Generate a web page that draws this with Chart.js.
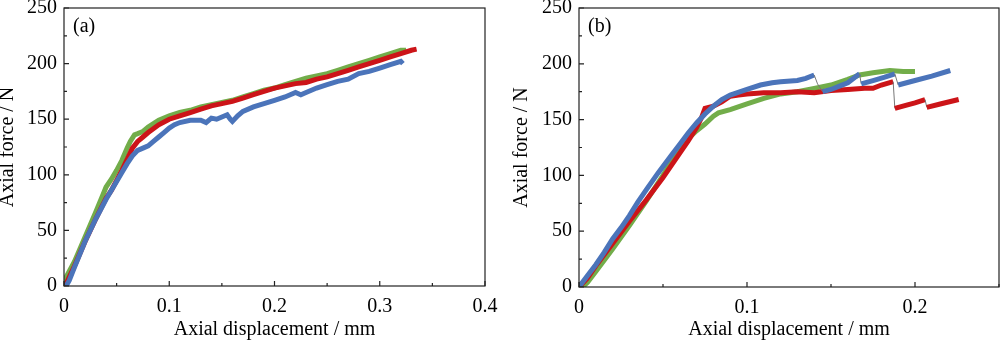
<!DOCTYPE html>
<html lang="en">
<head>
<meta charset="UTF-8">
<title>Axial force vs axial displacement</title>
<script src="https://cdn.jsdelivr.net/npm/chart.js"></script>
<style>
    body { margin: 0; background: #fff; }
    .panel { position: absolute; top: 0; width: 500px; height: 340px; }
    #pa { left: 0; }
    #pb { left: 500px; }
</style>
</head>
<body>
<div class="panel" id="pa"><canvas id="chartA" width="500" height="340"></canvas></div>
<div class="panel" id="pb"><canvas id="chartB" width="500" height="340"></canvas></div>
<script>
// tick values
const yTicks = [0, 50, 100, 150, 200, 250];
const aXTicks = [0, 0.1, 0.2, 0.3, 0.4];
const bXTicks = [0, 0.1, 0.2];

// panel (a): [displacement mm, force N]
const aGreen = [[0.000, 2], [0.002, 8], [0.01, 22], [0.02, 44], [0.03, 66], [0.037, 82], [0.04, 89],
    [0.045, 96], [0.05, 104], [0.055, 113], [0.06, 124], [0.063, 130], [0.067, 136], [0.07, 137],
    [0.075, 139], [0.08, 143], [0.09, 149], [0.1, 153], [0.11, 156], [0.12, 158], [0.13, 161],
    [0.14, 163], [0.15, 165], [0.16, 167], [0.17, 170], [0.18, 173], [0.19, 176], [0.2, 178],
    [0.21, 181], [0.22, 184], [0.23, 187], [0.24, 189], [0.25, 191], [0.26, 194], [0.27, 197],
    [0.28, 200], [0.29, 203], [0.3, 206], [0.31, 209], [0.32, 212], [0.325, 212]];
const aRed = [[0.001, 0], [0.005, 8], [0.01, 18], [0.02, 40], [0.03, 60], [0.04, 79], [0.045, 86],
    [0.05, 95], [0.055, 104], [0.06, 114], [0.065, 124], [0.07, 130], [0.075, 134], [0.08, 138],
    [0.09, 145], [0.1, 150], [0.11, 153], [0.12, 156], [0.13, 159], [0.14, 162], [0.15, 164],
    [0.16, 166], [0.17, 169], [0.18, 172], [0.19, 175], [0.2, 178], [0.21, 180], [0.22, 182],
    [0.23, 183], [0.24, 186], [0.25, 188], [0.26, 191], [0.27, 194], [0.28, 197], [0.29, 200],
    [0.3, 203], [0.31, 206], [0.32, 209], [0.33, 212], [0.335, 213]];
const aBlue = [[0.002, 0], [0.005, 5], [0.01, 17], [0.02, 40], [0.03, 60], [0.04, 78], [0.05, 94],
    [0.055, 102], [0.06, 110], [0.065, 117], [0.07, 122], [0.075, 124], [0.08, 126], [0.085, 130],
    [0.09, 134], [0.095, 138], [0.1, 142], [0.105, 145], [0.11, 147], [0.12, 149], [0.13, 149],
    [0.135, 147], [0.14, 151], [0.145, 150], [0.15, 152], [0.155, 154], [0.158, 150], [0.16, 148],
    [0.165, 153], [0.17, 157], [0.18, 161], [0.19, 164], [0.2, 167], [0.21, 170], [0.22, 174],
    [0.225, 172], [0.23, 174], [0.24, 178], [0.25, 181], [0.26, 184], [0.27, 186], [0.28, 191],
    [0.29, 193], [0.3, 196], [0.31, 199], [0.32, 202], [0.322, 200]];

// panel (b)
const bGreen = [[0.002, 0], [0.005, 4], [0.01, 14], [0.02, 34], [0.03, 55], [0.04, 77], [0.05, 100],
    [0.058, 120], [0.065, 133], [0.07, 140], [0.075, 146], [0.08, 153], [0.083, 156], [0.09, 159],
    [0.1, 164], [0.11, 169], [0.12, 173], [0.13, 175], [0.14, 178], [0.15, 181], [0.16, 186],
    [0.167, 190], [0.175, 192], [0.185, 194], [0.193, 193], [0.2, 193]];
const bRed = [[0, 0], [0.005, 8], [0.01, 19], [0.02, 39], [0.03, 59], [0.04, 78], [0.05, 98],
    [0.06, 120], [0.065, 131], [0.07, 143], [0.073, 152], [0.075, 160], [0.08, 162], [0.085, 166],
    [0.09, 171], [0.095, 172], [0.1, 173], [0.11, 174], [0.12, 174], [0.13, 175], [0.14, 174],
    [0.15, 176], [0.16, 177], [0.17, 178], [0.175, 178], [0.18, 181], [0.187, 184], [0.188, 160],
    [0.195, 163], [0.2, 165], [0.206, 168], [0.207, 161], [0.215, 164], [0.226, 168]];
const bBlue = [[0, 0], [0.005, 10], [0.01, 20], [0.015, 31], [0.02, 43], [0.025, 53], [0.03, 64],
    [0.035, 76], [0.04, 87], [0.047, 102], [0.055, 118], [0.06, 128], [0.065, 138], [0.07, 147],
    [0.075, 155], [0.08, 162], [0.085, 168], [0.09, 172], [0.1, 177], [0.108, 181], [0.115, 183],
    [0.12, 184], [0.13, 185], [0.135, 187], [0.14, 190], [0.142, 182], [0.145, 175], [0.15, 177],
    [0.155, 180], [0.16, 183], [0.167, 191], [0.168, 182], [0.175, 185], [0.182, 188], [0.188, 191],
    [0.19, 181], [0.2, 185], [0.21, 189], [0.221, 194]];

const GREEN = '#72ad4a';
const RED = '#cc1418';
const BLUE = '#4b74ba';
const FONT = '"Liberation Serif", "Times New Roman", serif';

function serie(pts, color) {
    return {
        data: pts.map(p => ({ x: p[0], y: p[1] })),
        borderColor: color,
        borderWidth: 5,
        pointRadius: 0,
        tension: 0,
        fill: false,
        segment: {
            // sudden drops are drawn as a thin grey connector
            borderColor: c => (c.p1.parsed.y < c.p0.parsed.y - 5 ? '#777' : undefined),
            borderWidth: c => (c.p1.parsed.y < c.p0.parsed.y - 5 ? 1 : undefined)
        }
    };
}

// frame, inward ticks and panel label
const framePlugin = {
    id: 'frame',
    afterDraw(chart, args, opts) {
        const ctx = chart.ctx;
        const a = chart.chartArea;
        const xs = chart.scales.x, ys = chart.scales.y;
        ctx.save();
        ctx.strokeStyle = '#222';
        ctx.lineWidth = 1.2;
        ctx.strokeRect(a.left, a.top, a.right - a.left, a.bottom - a.top);
        ctx.beginPath();
        for (let v = 0; v <= xs.max + 1e-9; v += 0.05) {
            const px = xs.getPixelForValue(v);
            const major = Math.abs(v * 10 - Math.round(v * 10)) < 1e-6;
            ctx.moveTo(px, a.bottom);
            ctx.lineTo(px, a.bottom - (major ? 5 : 3));
        }
        for (let v = 0; v <= ys.max; v += 25) {
            const py = ys.getPixelForValue(v);
            ctx.moveTo(a.left, py);
            ctx.lineTo(a.left + (v % 50 === 0 ? 5 : 3), py);
        }
        ctx.stroke();
        ctx.fillStyle = '#000';
        ctx.font = '20px ' + FONT;
        ctx.textBaseline = 'middle';
        ctx.textAlign = 'left';
        ctx.fillText(opts.label, a.left + 9, a.top + 19);
        ctx.restore();
    }
};

function makeChart(id, sets, xMax, xTicks, yWidth, xHeight, padRight, titlePad, label) {
    new Chart(document.getElementById(id), {
        type: 'line',
        data: { datasets: sets },
        options: {
            responsive: false,
            animation: false,
            layout: { padding: { top: 8, right: padRight, left: 0, bottom: 0 } },
            plugins: {
                legend: { display: false },
                tooltip: { enabled: false },
                frame: { label: label }
            },
            scales: {
                x: {
                    type: 'linear',
                    min: 0,
                    max: xMax,
                    grid: { display: false, drawTicks: false },
                    border: { display: false },
                    afterBuildTicks: s => { s.ticks = xTicks.map(v => ({ value: v })); },
                    afterFit: s => {
                        s.height = xHeight;
                        s.paddingLeft = 0;
                        s.paddingRight = 0;
                    },
                    ticks: {
                        padding: 9,
                        maxRotation: 0,
                        autoSkip: false,
                        color: '#000',
                        font: { family: FONT, size: 20 },
                        callback: v => String(v)
                    },
                    title: {
                        display: true,
                        text: 'Axial displacement / mm',
                        color: '#000',
                        padding: { top: 0, bottom: 0 },
                        font: { family: FONT, size: 20, lineHeight: 1.0 }
                    }
                },
                y: {
                    type: 'linear',
                    min: 0,
                    max: 250,
                    grid: { display: false, drawTicks: false },
                    border: { display: false },
                    afterBuildTicks: s => { s.ticks = yTicks.map(v => ({ value: v })); },
                    afterFit: s => {
                        s.width = yWidth;
                        s.paddingTop = 0;
                        s.paddingBottom = 0;
                    },
                    ticks: {
                        padding: 7,
                        autoSkip: false,
                        color: '#000',
                        font: { family: FONT, size: 20 }
                    },
                    title: {
                        display: true,
                        text: 'Axial force / N',
                        color: '#000',
                        padding: { top: titlePad, bottom: 0 },
                        font: { family: FONT, size: 20, lineHeight: 0.8 }
                    }
                }
            }
        },
        plugins: [framePlugin]
    });
}

// first dataset is drawn on top
makeChart('chartA', [serie(aBlue, BLUE), serie(aRed, RED), serie(aGreen, GREEN)],
    0.4, aXTicks, 64, 54, 15, 0, '(a)');
makeChart('chartB', [serie(bBlue, BLUE), serie(bRed, RED), serie(bGreen, GREEN)],
    0.25, bXTicks, 79, 53, 1, 14, '(b)');
</script>
</body>
</html>
